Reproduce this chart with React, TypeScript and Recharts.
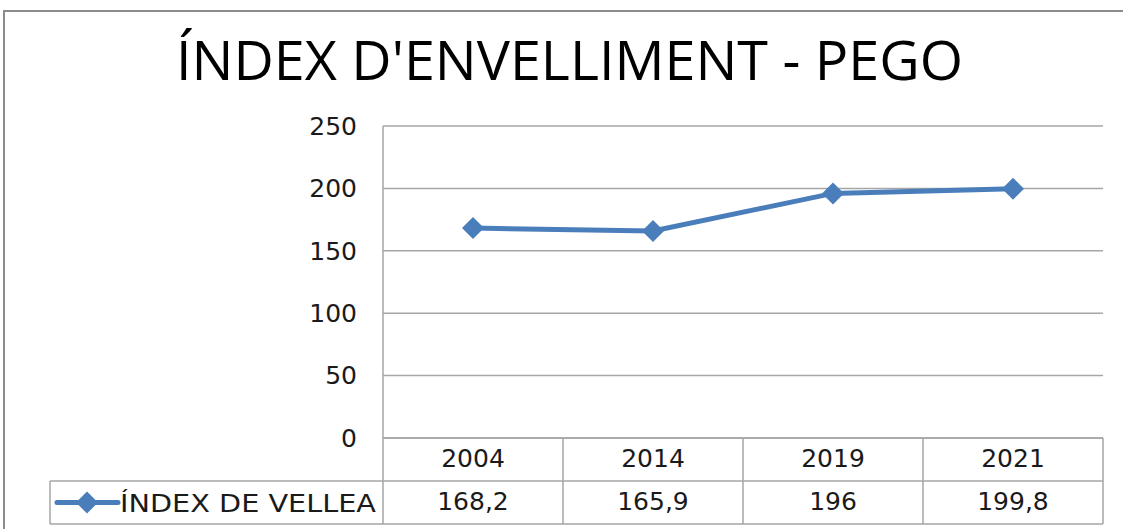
import React from 'react';
import { LineChart, Line, XAxis, YAxis, CartesianGrid } from 'recharts';

const years = ['2004', '2014', '2019', '2021'];
const values = [168.2, 165.9, 196, 199.8];
const valueLabels = ['168,2', '165,9', '196', '199,8'];
const yTicks = [0, 50, 100, 150, 200, 250];
const seriesName = 'ÍNDEX DE VELLEA';
const title = "ÍNDEX D'ENVELLIMENT - PEGO";

const data = years.map((y, i) => ({ year: y, value: values[i] }));

const BLUE = '#4a7ebb';
const GRID = '#a6a6a6';
const TEXT = '#1a1a1a';
const FONT = '"DejaVu Sans", sans-serif';
const HALF = 90;
const ROW = 43;
const LEGEND_W = 333;

const Diamond = (props: any) => {
  const { cx, cy } = props;
  if (cx == null || cy == null) return null;
  const r = 11;
  return (
    <polygon
      points={`${cx},${cy - r} ${cx + r},${cy} ${cx},${cy + r} ${cx - r},${cy}`}
      fill={BLUE}
    />
  );
};

const TableTick = (props: any) => {
  const { x, y, payload } = props;
  const i = payload.index;
  const left = x - HALF;
  const right = x + HALF;
  const lx = left - LEGEND_W;
  return (
    <g>
      {i === 0 && (
        <g>
          <line x1={left} y1={y} x2={left} y2={y + 2 * ROW} stroke={GRID} strokeWidth={1.5} />
          <line x1={lx} y1={y + ROW} x2={left} y2={y + ROW} stroke={GRID} strokeWidth={1.5} />
          <line x1={lx} y1={y + 2 * ROW} x2={left} y2={y + 2 * ROW} stroke={GRID} strokeWidth={1.5} />
          <line x1={lx} y1={y + ROW} x2={lx} y2={y + 2 * ROW} stroke={GRID} strokeWidth={1.5} />
          <line x1={lx + 7} y1={y + ROW * 1.5} x2={lx + 68} y2={y + ROW * 1.5} stroke={BLUE} strokeWidth={5} strokeLinecap="round" />
          <Diamond cx={lx + 37} cy={y + ROW * 1.5} />
          <text
            x={lx + 70}
            y={y + ROW * 1.5 + 9}
            textLength={256}
            lengthAdjust="spacingAndGlyphs"
            fontFamily={FONT}
            fontSize={25}
            fill={TEXT}
          >
            {seriesName}
          </text>
        </g>
      )}
      <line x1={right} y1={y} x2={right} y2={y + 2 * ROW} stroke={GRID} strokeWidth={1.5} />
      <line x1={left} y1={y + ROW} x2={right} y2={y + ROW} stroke={GRID} strokeWidth={1.5} />
      <line x1={left} y1={y + 2 * ROW} x2={right} y2={y + 2 * ROW} stroke={GRID} strokeWidth={1.5} />
      <text x={x} y={y + 29} textAnchor="middle" fontFamily={FONT} fontSize={25} fill={TEXT}>
        {payload.value}
      </text>
      <text x={x} y={y + ROW + 29} textAnchor="middle" fontFamily={FONT} fontSize={25} fill={TEXT}>
        {valueLabels[i]}
      </text>
    </g>
  );
};

export default function App() {
  return (
    <div style={{ position: 'absolute', left: 0, top: 0, width: 1123, height: 529, background: '#fff', overflow: 'hidden' }}>
      <div
        style={{
          position: 'absolute',
          left: 3,
          top: 10,
          width: 1130,
          height: 530,
          borderTop: '2px solid #8c8c8c',
          borderLeft: '2px solid #8c8c8c',
        }}
      />
      <svg style={{ position: 'absolute', left: 0, top: 0 }} width={1123} height={110}>
        <text
          x={176}
          y={80}
          textLength={787}
          lengthAdjust="spacingAndGlyphs"
          fontFamily='"Open Sans", sans-serif'
          fontSize={55}
          fill="#000"
        >
          {title}
        </text>
      </svg>
      <div style={{ position: 'absolute', left: 0, top: 0 }}>
        <LineChart width={1123} height={529} data={data} margin={{ top: 126, right: 20, bottom: 0, left: 303 }}>
          <CartesianGrid vertical={false} stroke={GRID} strokeWidth={1.5} />
          <XAxis
            dataKey="year"
            height={91}
            padding={{ left: HALF, right: HALF }}
            axisLine={{ stroke: GRID, strokeWidth: 1.5 }}
            tickLine={false}
            tickSize={0}
            tickMargin={0}
            interval={0}
            tick={<TableTick />}
          />
          <YAxis
            width={80}
            domain={[0, 250]}
            ticks={yTicks}
            axisLine={{ stroke: GRID, strokeWidth: 1.5 }}
            tickLine={false}
            tickSize={0}
            tickMargin={26}
            tick={{ fontFamily: FONT, fontSize: 25, fill: TEXT }}
          />
          <Line
            type="linear"
            dataKey="value"
            stroke={BLUE}
            strokeWidth={5}
            dot={<Diamond />}
            activeDot={false}
            isAnimationActive={false}
          />
        </LineChart>
      </div>
    </div>
  );
}
